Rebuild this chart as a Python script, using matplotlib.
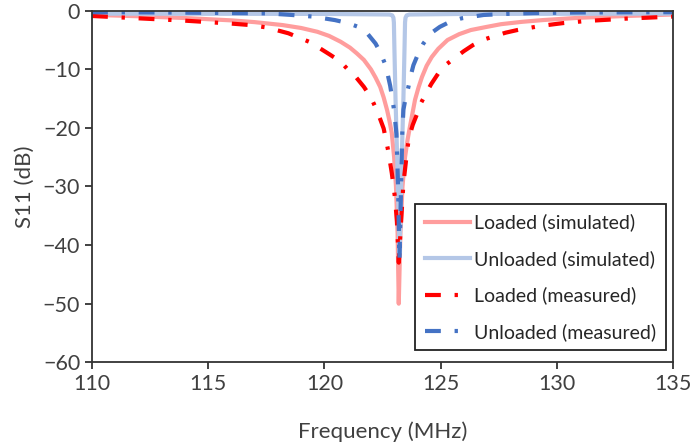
import matplotlib.pyplot as plt

plt.rcParams['font.family'] = ['Lato', 'DejaVu Sans']

# Loaded (simulated)
f_ls = [110, 112, 114, 116, 117, 118.2, 119, 119.7, 120.2, 120.7, 121.1, 121.4, 121.7,
        122.0, 122.2, 122.4, 122.55, 122.7, 122.8, 122.9, 123.0, 123.08, 123.15, 123.2,
        123.27, 123.36, 123.47, 123.58, 123.68, 123.8, 123.9, 124.05, 124.2, 124.4,
        124.62, 124.9, 125.3, 125.8, 126.3, 127, 127.6, 128.5, 129.4, 131, 133, 135]
s_ls = [-0.7, -0.95, -1.25, -1.65, -1.95, -2.45, -2.95, -3.6, -4.3, -5.3, -6.3, -7.3, -8.4,
        -10.0, -11.4, -13.0, -14.8, -17.0, -18.8, -20.9, -25, -30, -38, -50,
        -38, -30, -25, -22, -19.8, -17.3, -15.2, -13.1, -11.3, -9.4,
        -7.9, -6.5, -5.0, -4.0, -3.3, -2.75, -2.3, -1.9, -1.6, -1.2, -0.9, -0.65]

# Unloaded (simulated)
f_us = [110, 120, 122.8, 122.92, 122.97, 122.99, 123.01, 123.06, 123.13, 123.2, 123.23,
        123.27, 123.33, 123.40, 123.45, 123.47, 123.49, 123.54, 123.66, 126, 135]
s_us = [-0.5, -0.55, -0.65, -0.8, -1.2, -2, -6, -15, -25, -36, -42,
        -36, -25, -15, -6, -2, -1.2, -0.8, -0.65, -0.55, -0.5]

# Loaded (measured)
f_lm = [110, 112, 114, 116, 116.8, 117.5, 118.45, 119.4, 120.24, 120.7, 121.0, 121.35,
        121.7, 122.0, 122.2, 122.4, 122.55, 122.75, 122.9, 123.04, 123.12, 123.2, 123.3,
        123.4, 123.54, 123.63, 123.8, 123.97, 124.15, 124.36, 124.6, 124.9, 125.2, 125.6,
        126.0, 126.4, 126.8, 127.35, 127.8, 128.3, 129.3, 130.3, 131.3, 133, 135]
s_lm = [-0.9, -1.3, -1.7, -2.2, -2.45, -2.85, -3.85, -5.4, -7.5, -8.7, -10, -11.3,
        -13, -14.8, -16.5, -18.5, -20.1, -24, -27.7, -32, -36, -43, -36,
        -29.5, -24.6, -21.8, -19.5, -17.8, -15.8, -14.2, -12.5, -10.7, -9.3, -8.1,
        -6.9, -5.85, -5.0, -4.3, -3.75, -3.3, -2.6, -2.1, -1.75, -1.35, -1.0]

# Unloaded (measured)
f_um = [110, 113, 116, 117.5, 118.5, 119.5, 120.45, 121.0, 121.45, 121.85, 122.2, 122.42,
        122.6, 122.73, 122.83, 122.92, 123.0, 123.1, 123.17, 123.23, 123.3, 123.35, 123.4,
        123.5, 123.61, 123.72, 123.83, 124.05, 124.26, 124.6, 124.97, 125.4, 125.9,
        126.85, 127.8, 129, 131, 135]
s_um = [-0.25, -0.3, -0.4, -0.45, -0.7, -1.0, -1.6, -2.1, -2.75, -3.9, -5.6, -7.2,
        -9.0, -11, -12.8, -15, -17, -21, -30, -42.5, -30, -21, -16.9,
        -14.8, -13.1, -11, -9.3, -7.2, -5.6, -3.8, -2.75, -1.9, -1.3,
        -0.73, -0.55, -0.4, -0.3, -0.25]

fig = plt.figure(figsize=(6.94, 4.46), dpi=100)
ax = fig.add_axes([0.1326, 0.1877, 0.8371, 0.7883])

dd = (0, (3.8, 3.3, 0.8, 3.3))
ax.plot(f_ls, s_ls, color='#FF9D9D', lw=3, label='Loaded (simulated)')
ax.plot(f_us, s_us, color='#B4C7E7', lw=3, label='Unloaded (simulated)')
ax.plot(f_lm, s_lm, color='#FF0000', lw=3, ls=dd, label='Loaded (measured)')
ax.plot(f_um, s_um, color='#4472C4', lw=3, ls=dd, label='Unloaded (measured)')

ax.set_xlim(110, 135)
ax.set_ylim(-60, 0)
ax.set_xticks(range(110, 136, 5))
ax.set_yticks(range(-60, 1, 10))
for s in ax.spines.values():
    s.set_color('#333333')
    s.set_linewidth(1.3)
ax.tick_params(colors='#333333', labelcolor='#404040', labelsize=15.5, length=5, width=1.3)
ax.set_xlabel('Frequency (MHz)', fontsize=16, color='#404040', labelpad=20)
ax.set_ylabel('S11 (dB)', fontsize=16, color='#404040', labelpad=6)

leg = ax.legend(loc='upper right', bbox_to_anchor=(0.96, 0.5426), bbox_transform=fig.transFigure,
                borderaxespad=0, fontsize=14, fancybox=False, framealpha=1,
                edgecolor='#222222', handlelength=2.3, handletextpad=0.25, labelspacing=0.95,
                borderpad=0.5)
leg.get_frame().set_linewidth(1.3)
for t in leg.get_texts():
    t.set_color('#262626')

fig.savefig('out.png', dpi=100)
